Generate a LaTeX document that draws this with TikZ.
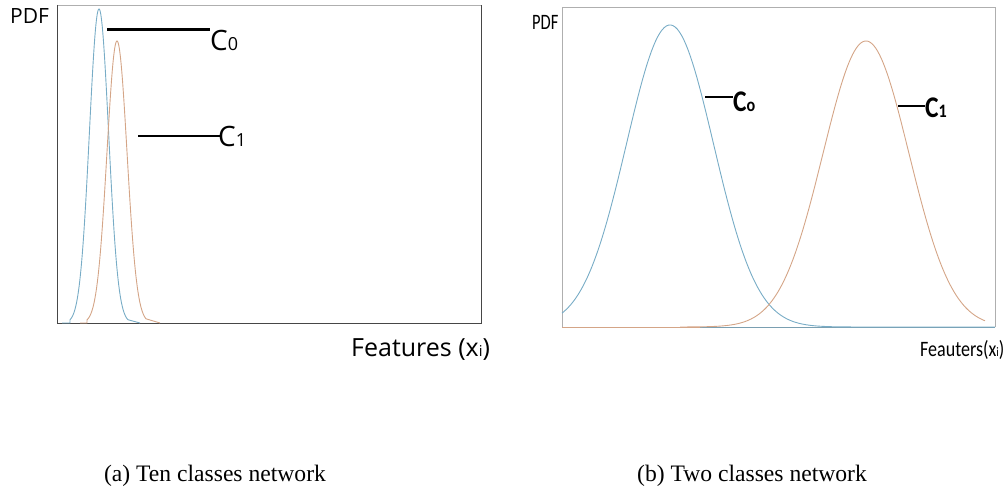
\documentclass[tikz,border=0pt]{standalone}
\usepackage{fontspec}
\setmainfont{Liberation Serif}
\newfontfamily\osans{Open Sans}
\newfontfamily\carl{Carlito}
\definecolor{cblue}{RGB}{120,172,198}
\definecolor{corange}{RGB}{212,165,135}
\definecolor{boxgray}{RGB}{175,175,175}
\definecolor{axisdark}{RGB}{70,70,70}
\tikzset{
  curveblue/.style={draw=cblue, line width=0.9pt},
  curveorange/.style={draw=corange, line width=0.9pt},
  lbl/.style={inner sep=0pt, anchor=base west},
  captext/.style={inner sep=0pt, anchor=base, font=\fontsize{23.6}{26}\selectfont}
}
\begin{document}
\begin{tikzpicture}[x=1pt,y=-1pt]
\useasboundingbox (0,0) rectangle (1005,489);
% ---------- panel (a) ----------
\draw[boxgray, line width=0.8pt] (57,5) -- (481,5);
\draw[axisdark, line width=0.9pt] (57,5) -- (57,323) -- (481,323) -- (481,5);
\draw[curveblue] (62,323) -- (70,323)
  -- plot[domain=70:128, samples=120] (\x, {323-314*exp(-0.5*((\x-99)/9.6)^2)})
  -- (140,323);
\draw[curveorange] (80,323) -- (87,323)
  -- plot[domain=87:146, samples=120] (\x, {323-282*exp(-0.5*((\x-117)/10)^2)})
  -- (160,323);
\node[lbl, font=\osans\fontsize{21}{23}\selectfont] (pdfa) at (10,24) {PDF};
\coordinate (c0a) at (107,30);
\node[lbl, font=\osans\fontsize{28}{30}\selectfont] (C0a) at (210,51) {C{\fontsize{18}{18}\selectfont 0}};
\draw[black, line width=3pt] (c0a) -- (C0a.west |- c0a);
\coordinate (c1a) at (138,136);
\node[lbl, font=\osans\fontsize{28}{30}\selectfont] (C1a) at (218,147) {C{\fontsize{18}{18}\selectfont 1}};
\draw[black, line width=1.5pt] (c1a) -- ([xshift=2pt]C1a.west |- c1a);
\node[lbl, font=\osans\fontsize{25}{27}\selectfont] (feata) at (351,356) {Features (x{\fontsize{15}{15}\selectfont i})};
% ---------- panel (b) ----------
\draw[boxgray, line width=0.7pt] (562,327) -- (562,7) -- (995,7) -- (995,327);
\draw[corange, line width=0.8pt] (562,327) -- (700,327);
\draw[cblue!70!gray, line width=0.8pt] (700,327) -- (995,327);
\draw[curveblue] plot[domain=562:995, samples=200] (\x, {327-302*exp(-0.5*((\x-670)/43.5)^2)});
\draw[curveorange] plot[domain=680:985, samples=160] (\x, {327-286*exp(-0.5*((\x-866)/43)^2)});
\node[lbl, font=\carl\fontsize{22}{24}\selectfont] (pdfb) at (532,30) {\scalebox{0.75}[1]{PDF}};
\coordinate (c0b) at (705,97);
\node[lbl, font=\carl\bfseries\fontsize{30}{32}\selectfont] (C0b) at (733,112) {\scalebox{0.85}[1]{C{\fontsize{19}{19}\selectfont o}}};
\draw[black, line width=1.5pt] (c0b) -- (C0b.west |- c0b);
\coordinate (c1b) at (898,106);
\node[lbl, font=\carl\bfseries\fontsize{30}{32}\selectfont] (C1b) at (925,118) {\scalebox{0.85}[1]{C{\fontsize{19}{19}\selectfont 1}}};
\draw[black, line width=1.5pt] (c1b) -- (C1b.west |- c1b);
\node[lbl, font=\carl\fontsize{22}{24}\selectfont] (featb) at (920,356) {\scalebox{0.82}[1]{Feauters(x{\fontsize{13}{13}\selectfont i})}};
% ---------- captions ----------
\node[captext] (capa) at (215,481) {(a) Ten classes network};
\node[captext] (capb) at (752,481) {(b) Two classes network};
\end{tikzpicture}
\end{document}
